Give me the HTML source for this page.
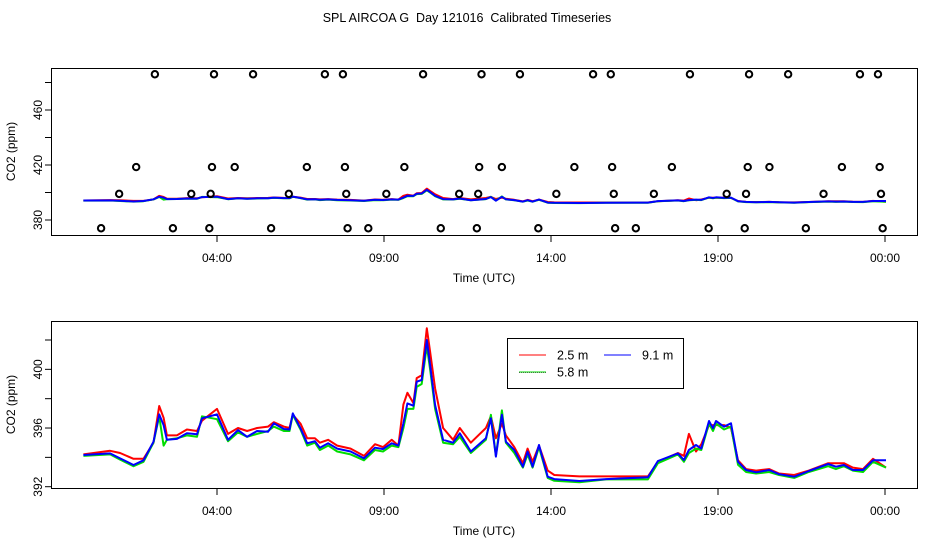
<!DOCTYPE html>
<html><head><meta charset="utf-8">
<style>
html,body{margin:0;padding:0;background:#fff;}
svg{display:block;font-family:"Liberation Sans",sans-serif;}
</style></head>
<body>
<svg id="chart" width="936" height="540" viewBox="0 0 936 540" xmlns="http://www.w3.org/2000/svg">
<text x="467" y="22" font-size="12.5" text-anchor="middle" style="white-space:pre" xml:space="preserve">SPL AIRCOA G  Day 121016  Calibrated Timeseries</text>
</svg>
<script>
// ---- data ----
const hours = [0,0.8,1.1,1.5,1.8,2.1,2.27,2.4,2.5,2.8,3.1,3.4,3.55,4.0,4.33,4.63,4.9,5.2,5.53,5.7,6.0,6.17,6.27,6.5,6.7,6.93,7.08,7.33,7.6,8.0,8.4,8.73,8.97,9.23,9.43,9.58,9.7,9.88,9.98,10.13,10.28,10.38,10.53,10.77,11.07,11.27,11.6,12.05,12.2,12.35,12.53,12.65,12.9,13.16,13.3,13.45,13.64,13.9,14.1,14.85,15.65,16.9,17.2,17.8,17.98,18.13,18.34,18.5,18.73,18.85,18.94,19.18,19.39,19.6,19.84,20.14,20.53,20.83,21.28,21.72,22.3,22.53,22.77,23.04,23.34,23.64,24.03];
const co2Blue = [394.16,394.27,393.93,393.48,393.8,395.07,396.93,396.2,395.2,395.26,395.64,395.57,396.66,396.93,395.2,395.86,395.4,395.8,395.75,396.32,395.93,395.9,397.0,395.98,394.96,395.1,394.66,394.96,394.6,394.4,393.93,394.66,394.57,394.96,394.8,396.32,397.68,397.52,399.16,399.27,402.0,400.3,397.57,395.2,395.0,395.64,394.4,395.3,396.66,394.05,396.9,395.07,394.5,393.36,394.4,393.36,394.84,392.68,392.52,392.39,392.52,392.64,393.75,394.27,393.82,394.5,394.84,394.6,396.48,395.98,396.48,396.09,396.32,393.7,393.14,392.98,393.14,392.85,392.68,393.07,393.55,393.36,393.48,393.14,393.14,393.8,393.8];
const co2Red = [394.2,394.45,394.3,393.9,393.9,395.0,397.5,396.7,395.5,395.5,395.9,395.8,396.5,397.3,395.6,396.0,395.8,396.0,396.1,396.4,396.1,396.0,396.9,396.3,395.3,395.3,395.0,395.2,394.8,394.6,394.1,394.9,394.7,395.2,394.8,397.6,398.4,397.7,399.4,399.6,402.8,401.2,398.7,396.0,395.2,396.0,395.0,396.0,396.8,395.3,396.3,395.5,394.7,393.6,394.6,393.7,394.8,393.1,392.8,392.7,392.7,392.7,393.7,394.3,394.1,395.6,394.4,394.9,396.2,396.2,396.2,396.2,396.0,393.8,393.2,393.1,393.2,392.9,392.8,393.1,393.6,393.6,393.6,393.3,393.2,393.9,393.3];
const co2Green = [394.1,394.2,393.85,393.4,393.7,395.0,396.8,394.8,395.2,395.3,395.5,395.4,396.8,396.6,395.1,395.7,395.4,395.6,395.8,396.1,395.8,395.8,396.9,395.9,394.8,395.0,394.5,394.8,394.4,394.2,393.8,394.5,394.4,394.8,394.7,396.0,397.3,397.3,398.8,399.0,401.6,400.0,397.3,395.0,394.9,395.4,394.3,395.2,396.9,394.1,397.2,395.0,394.3,393.3,394.2,393.3,394.7,392.6,392.4,392.3,392.5,392.5,393.6,394.2,393.7,394.3,394.6,394.5,396.3,395.8,396.3,395.9,396.1,393.5,393.0,392.9,393.0,392.8,392.6,393.0,393.4,393.2,393.4,393.1,393.0,393.7,393.3];
const circleHours = [2.14,3.91,5.08,7.23,7.77,10.17,11.92,13.07,15.26,15.79,18.16,19.93,21.1,23.25,23.79,
 1.58,3.85,4.53,6.69,7.83,9.61,11.85,12.53,14.7,15.83,17.62,19.89,20.54,22.71,23.84,
 1.07,3.23,3.81,6.15,7.87,9.07,11.25,11.82,14.16,15.88,17.08,19.26,19.84,22.16,23.88,
 0.53,2.68,3.77,5.62,7.91,8.53,10.7,11.78,13.62,15.92,16.54,18.72,19.8,21.63,23.93];
const circleValues = [486,486,486,486,486,486,486,486,486,486,486,486,486,486,486,
 418.5,418.5,418.5,418.5,418.5,418.5,418.5,418.5,418.5,418.5,418.5,418.5,418.5,418.5,418.5,
 399,399,399,399,399,399,399,399,399,399,399,399,399,399,399,
 374,374,374,374,374,374,374,374,374,374,374,374,374,374,374];
const xTickHours = [4,9,14,19,24];
const xTickLabels = ["04:00","09:00","14:00","19:00","00:00"];
const topTicks = [380,400,420,440,460,480];
const topTickLabels = [380,420,460];
const botTicks = [392,394,396,398,400,402];
const botTickLabels = [392,396,400];

// ---- drawing ----
const NS="http://www.w3.org/2000/svg";
const svg=document.getElementById('chart');
function mk(tag,attrs,parent){const e=document.createElementNS(NS,tag);for(const k in attrs)e.setAttribute(k,attrs[k]);(parent||svg).appendChild(e);return e;}
const xScale=h=>83.4+33.4*h;
const panels=[
 {name:'top',top:68,bottom:235,y:v=>220-(v-380)*1.375,ticks:topTicks,labels:topTickLabels},
 {name:'bottom',top:321,bottom:488,y:v=>486.7-(v-392)*14.67,ticks:botTicks,labels:botTickLabels}
];
const series=[{n:'2.5m',c:'#ff0000',d:co2Red},{n:'5.8m',c:'#00dd00',d:co2Green},{n:'9.1m',c:'#0000ff',d:co2Blue}];
panels.forEach(p=>{
  const g=mk('g',{});
  
  
  const box=mk('rect',{x:51.5,y:p.top+0.5,width:866,height:p.bottom-p.top,fill:'none',stroke:'#000','stroke-width':1},g);
  
  
  const clipId='clip-'+p.name;
  const cp=mk('clipPath',{id:clipId},g);mk('rect',{x:52,y:p.top+1,width:865,height:p.bottom-p.top-1},cp);
  p.ticks.forEach(v=>{
    const t=mk('line',{x1:45,x2:51.5,y1:p.y(v),y2:p.y(v),stroke:'#000'},g);
    
    
  });
  p.labels.forEach(v=>{
    const yy=p.y(v);
    const t=mk('text',{x:0,y:0,'font-size':12,'text-anchor':'middle',transform:`translate(42,${yy}) rotate(-90)`},g);
    t.textContent=v;
    
    
  });
  const yt=mk('text',{x:0,y:0,'font-size':12,'text-anchor':'middle',transform:`translate(15,${(p.top+p.bottom)/2}) rotate(-90)`},g);
  yt.textContent='CO2 (ppm)';
  
  
  xTickHours.forEach((h,i)=>{
    const t=mk('line',{x1:xScale(h),x2:xScale(h),y1:p.bottom,y2:p.bottom+7,stroke:'#000'},g);
    
    
    const l=mk('text',{x:xScale(h),y:p.bottom+27,'font-size':12,'text-anchor':'middle'},g);
    l.textContent=xTickLabels[i];
    
    
  });
  const xt=mk('text',{x:484,y:p.bottom+47,'font-size':12,'text-anchor':'middle'},g);
  xt.textContent='Time (UTC)';
  
  
  const sg=mk('g',{'clip-path':`url(#${clipId})`},g);
  series.forEach(s=>{
    const pts=hours.map((h,i)=>xScale(h).toFixed(1)+','+p.y(s.d[i]).toFixed(1)).join(' ');
    const pl=mk('polyline',{points:pts,fill:'none',stroke:s.c,'stroke-width':2,'stroke-linejoin':'round'},sg);
    
    
  });
  if(p.name==='top'){
    circleHours.forEach((h,i)=>{
      const c=mk('circle',{cx:xScale(h),cy:p.y(circleValues[i]),r:3.2,fill:'none',stroke:'#000','stroke-width':2},g);
      
      
    });
  }
});
const lg=mk('g',{});


mk('rect',{x:507.5,y:338.5,width:176,height:50,fill:'#fff',stroke:'#000'},lg);
const entries=[{n:'2.5 m',c:'#ff0000',x:519,y:355},{n:'9.1 m',c:'#0000ff',x:604,y:355},{n:'5.8 m',c:'#00dd00',x:519,y:372}];
entries.forEach(e=>{
  const eg=mk('g',{},lg);
  
  
  mk('line',{x1:e.x,x2:e.x+27,y1:e.y,y2:e.y,stroke:e.c,'stroke-width':1},eg);
  if(e.n==='5.8 m') mk('line',{x1:e.x,x2:e.x+27,y1:e.y+0.5,y2:e.y+0.5,stroke:'#000','stroke-width':0.6,'stroke-dasharray':'1,1'},eg);
  const t=mk('text',{x:e.x+38,y:e.y+4.5,'font-size':12.5},eg);
  t.textContent=e.n;
});
</script>
</body></html>
